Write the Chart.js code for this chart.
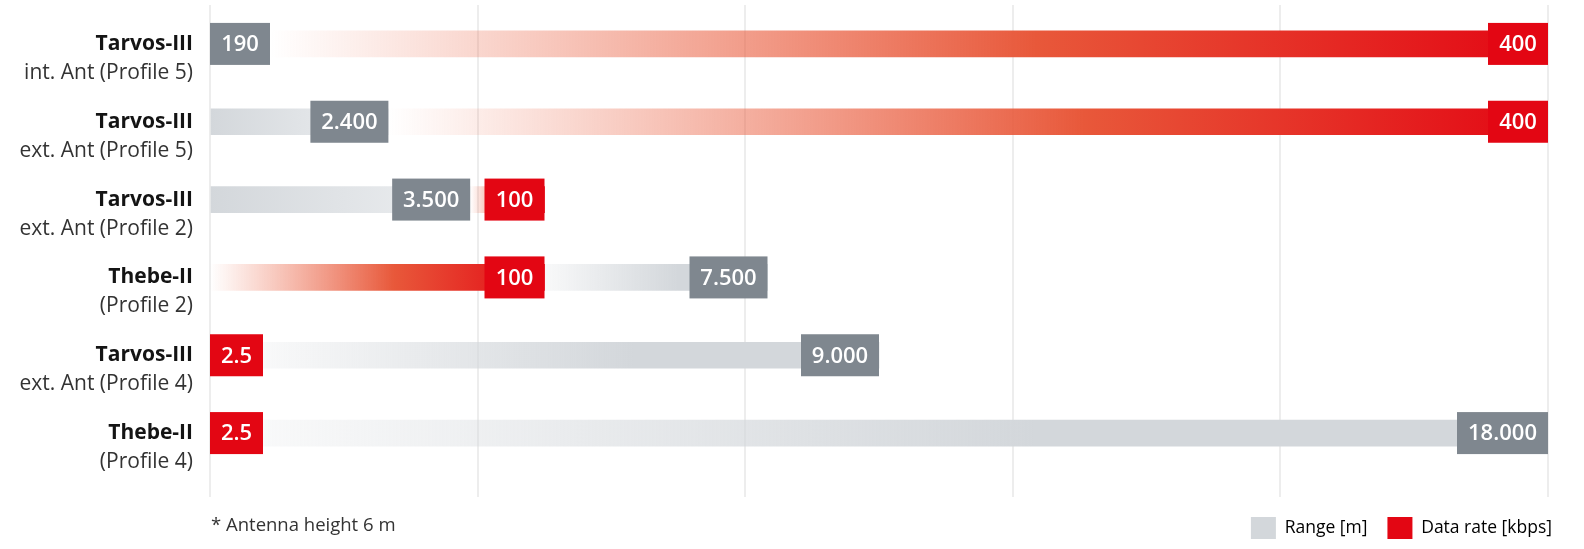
<!DOCTYPE html>
<html>
<head>
<meta charset="utf-8">
<script src="https://cdn.jsdelivr.net/npm/chart.js@4.4.0/dist/chart.umd.min.js"></script>
<style>
  html, body { margin: 0; padding: 0; background: #fff; overflow: hidden; }
  #wrap { position: relative; width: 1584px; height: 549px; overflow: hidden; }
  #chart { display: block; }
  #note { position: absolute; left: 211px; top: 511px; font: 18.5px 'Open Sans', sans-serif; color: #333; }
</style>
</head>
<body>
<div id="wrap">
  <canvas id="chart" width="1584" height="549"></canvas>
  <div id="note">* Antenna height 6 m</div>
</div>
<script>
// data
const modules = ['Tarvos-III', 'Tarvos-III', 'Tarvos-III', 'Thebe-II', 'Tarvos-III', 'Thebe-II'];
const profiles = ['int. Ant (Profile 5)', 'ext. Ant (Profile 5)', 'ext. Ant (Profile 2)', '(Profile 2)', 'ext. Ant (Profile 4)', '(Profile 4)'];
const rangeM = [190, 2400, 3500, 7500, 9000, 18000];
const rateKbps = [400, 400, 100, 100, 2.5, 2.5];
const RANGE_MAX = 18000;
const RATE_MAX = 400;

const GREY = '#d3d7db', GREY_LIGHT = '#eef0f2', GREY_BOX = '#7f878f', RED = '#e30613';
const FONT = '"Open Sans", sans-serif';
const BOX_FONT = '600 22px ' + FONT;

const fmtRange = v => String(v).replace(/\B(?=(\d{3})+(?!\d))/g, '.');
const fmtRate = v => String(v);

// works out which metric comes first in a row and where the value boxes sit
function rowLayout(chart, i) {
  const base = chart.chartArea.left;
  const ctx = chart.ctx;
  const items = [
    { key: 'range', frac: rangeM[i] / RANGE_MAX, end: chart.scales.xRange.getPixelForValue(rangeM[i]), text: fmtRange(rangeM[i]), box: GREY_BOX },
    { key: 'rate', frac: rateKbps[i] / RATE_MAX, end: chart.scales.xRate.getPixelForValue(rateKbps[i]), text: fmtRate(rateKbps[i]), box: RED }
  ];
  ctx.save();
  ctx.font = BOX_FONT;
  items.forEach(it => it.w = Math.round(ctx.measureText(it.text).width + 22));
  ctx.restore();
  const sorted = items.slice().sort((a, b) => a.frac - b.frac);
  const first = sorted[0], second = sorted[1];
  first.first = true;
  first.start = base;
  first.right = Math.max(first.end, base + first.w);
  second.first = false;
  second.start = first.right;
  second.right = Math.max(second.end, first.right + 4 + second.w);
  return { base, first, second, range: items[0], rate: items[1] };
}

function barFill(key) {
  return c => {
    const chart = c.chart;
    if (c.type !== 'data' || !chart.chartArea) return key === 'range' ? GREY : RED;
    const L = rowLayout(chart, c.dataIndex);
    const it = L[key];
    const end = Math.max(it.end, L.base + 1);
    const g = chart.ctx.createLinearGradient(L.base, 0, end, 0);
    const f = Math.min(Math.max((it.start - L.base) / (end - L.base), 0), 1);
    if (it.first) {
      if (key === 'range') {
        g.addColorStop(0, GREY);
        g.addColorStop(1, GREY_LIGHT);
      } else {
        g.addColorStop(0, 'rgba(236,110,80,0)');
        g.addColorStop(0.55, 'rgb(232,88,58)');
        g.addColorStop(1, RED);
      }
      return g;
    }
    if (f >= 1) return 'rgba(0,0,0,0)';
    g.addColorStop(0, 'rgba(255,255,255,0)');
    g.addColorStop(f, 'rgba(255,255,255,0)');
    if (key === 'range') {
      g.addColorStop(f, 'rgba(211,215,219,0.15)');
      g.addColorStop(f + (1 - f) * 0.6, GREY);
      g.addColorStop(1, GREY);
    } else {
      g.addColorStop(f, 'rgba(236,110,80,0)');
      g.addColorStop(f + (1 - f) * 0.6, 'rgb(232,88,58)');
      g.addColorStop(1, RED);
    }
    return g;
  };
}

const rowLabels = {
  id: 'rowLabels',
  afterDatasetsDraw(chart) {
    const ctx = chart.ctx;
    const y = chart.scales.y;
    const lx = chart.chartArea.left - 17;
    ctx.save();
    ctx.textBaseline = 'middle';
    for (let i = 0; i < modules.length; i++) {
      const yc = y.getPixelForValue(i);
      ctx.textAlign = 'right';
      ctx.fillStyle = '#141414';
      ctx.font = 'bold 21px ' + FONT;
      ctx.fillText(modules[i], lx, yc);
      ctx.fillStyle = '#333';
      ctx.font = '21px ' + FONT;
      ctx.fillText(profiles[i], lx, yc + 29);

      const L = rowLayout(chart, i);
      [L.first, L.second].forEach(it => {
        ctx.fillStyle = it.box;
        ctx.fillRect(it.right - it.w, yc - 21, it.w, 42);
        ctx.fillStyle = '#fff';
        ctx.font = BOX_FONT;
        ctx.textAlign = 'center';
        ctx.fillText(it.text, it.right - it.w / 2, yc + 1);
      });
    }
    ctx.restore();
  }
};

new Chart(document.getElementById('chart'), {
  type: 'bar',
  data: {
    labels: modules.map((m, i) => [m, profiles[i]]),
    datasets: [
      { label: 'Range [m]', data: rangeM, xAxisID: 'xRange', backgroundColor: barFill('range'), barThickness: 26, grouped: false, borderWidth: 0 },
      { label: 'Data rate [kbps]', data: rateKbps, xAxisID: 'xRate', backgroundColor: barFill('rate'), barThickness: 26, grouped: false, borderWidth: 0 }
    ]
  },
  options: {
    indexAxis: 'y',
    responsive: false,
    animation: false,
    events: [],
    layout: { padding: { top: 5, right: 12, bottom: 0, left: 0 } },
    scales: {
      y: {
        ticks: { display: false },
        grid: { display: false },
        border: { display: false },
        afterFit: s => { s.width = 210; }
      },
      // empty strip on the right so the legend can reach past the plot edge
      yPad: {
        type: 'category', position: 'right',
        ticks: { display: false },
        grid: { display: false },
        border: { display: false },
        afterFit: s => { s.width = 24; }
      },
      xRange: {
        position: 'bottom', min: 0, max: RANGE_MAX,
        ticks: { display: false, stepSize: 3600 },
        grid: { color: '#ededed', lineWidth: 2, drawTicks: true, tickLength: 25 },
        border: { display: false }
      },
      xRate: { display: false, min: 0, max: RATE_MAX }
    },
    plugins: {
      tooltip: { enabled: false },
      legend: {
        position: 'bottom', align: 'end',
        labels: {
          boxWidth: 25, boxHeight: 22, padding: 20, color: '#333',
          font: { size: 17.5, family: FONT },
          generateLabels: chart => chart.data.datasets.map((d, i) => ({
            text: d.label, fillStyle: i === 0 ? GREY : RED, strokeStyle: 'rgba(0,0,0,0)', lineWidth: 0, datasetIndex: i, hidden: false
          }))
        }
      }
    }
  },
  plugins: [rowLabels]
});
</script>
</body>
</html>
